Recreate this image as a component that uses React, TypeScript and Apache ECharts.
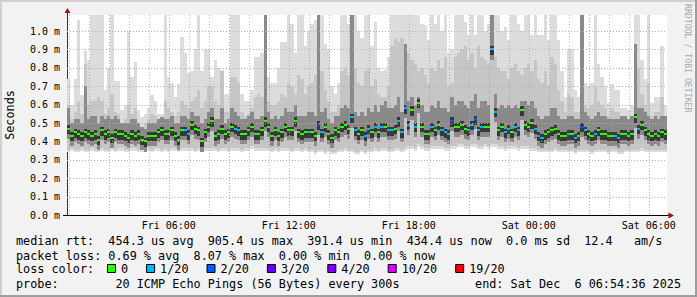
import React, { useEffect, useRef } from 'react';
import * as echarts from 'echarts';

// Time axis: hours since Fri 00:00 (Dec 5 2025). One sample every 10 minutes, 30 h window.
const START_HOUR = 54.6 / 60; // Fri 00:54:36
const STEP_HOURS = 1 / 6;
const SPAN_HOURS = 30;
const Y_MAX = 1.087; // ms

// All ping values below are in units of 0.01 ms (10 µs)
const median = [
  47, 43, 45, 44, 43, 45, 44, 43, 44, 41,
  46, 44, 45, 42, 45, 44, 44, 43, 42, 44,
  43, 44, 41, 40, 43, 43, 43, 45, 46, 44,
  44, 46, 43, 41, 46, 46, 44, 49, 47, 46,
  40, 45, 48, 51, 43, 44, 47, 44, 45, 48,
  47, 46, 44, 44, 46, 48, 44, 44, 46, 51,
  48, 43, 46, 43, 45, 48, 46, 46, 51, 45,
  44, 45, 45, 45, 43, 49, 45, 48, 44, 42,
  46, 45, 48, 49, 47, 53, 46, 44, 46, 43,
  47, 45, 48, 45, 48, 48, 46, 46, 47, 51,
  45, 58, 49, 57, 48, 61, 48, 44, 44, 48,
  46, 49, 46, 45, 44, 51, 48, 48, 49, 47,
  46, 49, 52, 46, 48, 48, 48, 90, 56, 46,
  48, 45, 47, 45, 48, 46, 57, 49, 48, 50,
  47, 43, 42, 44, 45, 46, 47, 44, 43, 43,
  44, 44, 42, 43, 48, 46, 44, 43, 44, 46,
  44, 44, 43, 43, 43, 42, 44, 44, 43, 44,
  53, 47, 49, 46, 44, 43, 44, 43, 45, 44,
];

// lost pings out of 20 for each sample
const lossCount = [
  0, 0, 0, 0, 0, 0, 0, 0, 0, 0,
  0, 0, 0, 0, 0, 0, 0, 0, 0, 0,
  0, 0, 0, 0, 0, 0, 0, 0, 0, 0,
  0, 0, 0, 0, 0, 1, 1, 0, 0, 0,
  0, 0, 0, 0, 0, 0, 0, 0, 0, 0,
  1, 1, 0, 0, 0, 0, 0, 0, 0, 0,
  0, 0, 0, 0, 0, 0, 0, 0, 0, 0,
  0, 0, 1, 0, 0, 2, 1, 0, 0, 0,
  0, 0, 0, 0, 0, 1, 1, 0, 0, 1,
  1, 0, 1, 0, 1, 0, 1, 1, 0, 1,
  1, 1, 1, 0, 1, 0, 0, 0, 0, 1,
  0, 0, 1, 1, 1, 2, 0, 0, 0, 0,
  1, 1, 2, 1, 1, 0, 0, 1, 1, 0,
  0, 1, 1, 0, 1, 1, 0, 0, 0, 0,
  1, 1, 1, 0, 0, 0, 0, 0, 0, 0,
  1, 0, 1, 0, 2, 1, 0, 0, 1, 0,
  0, 0, 0, 0, 1, 1, 0, 0, 0, 0,
  0, 1, 0, 0, 0, 0, 0, 0, 0, 0,
];

// fastest ping of each sample
const pingMin = [
  34, 35, 34, 34, 35, 34, 34, 35, 34, 34,
  35, 34, 34, 35, 34, 35, 35, 34, 34, 35,
  35, 34, 34, 34, 35, 34, 35, 35, 34, 35,
  34, 35, 35, 34, 35, 35, 35, 35, 34, 35,
  34, 35, 35, 35, 35, 34, 35, 35, 34, 35,
  35, 35, 34, 35, 35, 36, 35, 35, 35, 35,
  35, 34, 35, 34, 35, 35, 35, 34, 35, 35,
  34, 35, 34, 34, 33, 34, 34, 33, 34, 33,
  33, 34, 34, 35, 34, 34, 33, 33, 34, 33,
  34, 34, 35, 34, 35, 35, 34, 34, 35, 35,
  34, 35, 36, 36, 35, 37, 36, 35, 35, 36,
  36, 36, 36, 35, 35, 36, 36, 37, 37, 36,
  36, 37, 37, 36, 36, 37, 36, 37, 37, 36,
  36, 35, 36, 36, 36, 35, 36, 36, 36, 35,
  35, 34, 34, 34, 34, 34, 35, 34, 34, 34,
  34, 34, 33, 34, 34, 34, 34, 33, 34, 34,
  34, 34, 33, 34, 34, 33, 33, 34, 34, 34,
  34, 34, 35, 34, 34, 34, 34, 34, 34, 34,
];

// slowest ping of each sample (values above the axis top are clipped)
const pingMax = [
  74, 60, 74, 106, 65, 89, 84, 109, 109, 109,
  109, 68, 80, 109, 73, 73, 57, 60, 100, 75,
  83, 57, 53, 55, 58, 65, 62, 55, 55, 109,
  75, 72, 64, 71, 97, 88, 77, 78, 90, 109,
  78, 90, 90, 75, 84, 80, 79, 66, 66, 109,
  109, 109, 66, 62, 62, 68, 86, 86, 88, 109,
  75, 72, 72, 80, 94, 94, 109, 104, 88, 109,
  109, 92, 100, 104, 106, 109, 109, 93, 90, 70,
  66, 72, 109, 109, 104, 109, 109, 100, 96, 109,
  109, 92, 105, 80, 78, 79, 86, 109, 109, 109,
  109, 109, 109, 109, 109, 109, 104, 103, 95, 109,
  104, 109, 100, 109, 88, 90, 109, 109, 109, 105,
  98, 109, 98, 109, 109, 100, 104, 109, 109, 109,
  100, 102, 95, 109, 109, 104, 100, 109, 109, 98,
  109, 98, 98, 109, 95, 109, 109, 95, 78, 64,
  90, 90, 68, 64, 109, 72, 70, 72, 109, 82,
  75, 70, 61, 71, 68, 68, 58, 58, 57, 60,
  109, 109, 84, 74, 109, 61, 64, 64, 92, 60,
];

// upper edge of the medium smoke (roughly the 17th of 20 pings)
const upperMid = [
  60, 52, 56, 62, 55, 82, 60, 62, 62, 64,
  62, 55, 58, 66, 56, 55, 50, 52, 60, 55,
  58, 50, 48, 50, 52, 55, 54, 50, 50, 62,
  58, 56, 54, 56, 62, 60, 58, 62, 64, 68,
  58, 62, 70, 70, 62, 60, 78, 56, 56, 75,
  75, 72, 56, 54, 55, 58, 64, 66, 64, 80,
  62, 60, 60, 62, 66, 64, 72, 70, 66, 76,
  74, 66, 70, 72, 76, 80, 78, 68, 62, 56,
  56, 60, 78, 80, 76, 84, 80, 72, 70, 78,
  80, 70, 74, 66, 64, 64, 70, 92, 96, 94,
  96, 92, 88, 84, 82, 78, 80, 76, 72, 80,
  78, 84, 80, 86, 70, 72, 86, 88, 90, 92,
  84, 88, 80, 92, 86, 84, 82, 96, 86, 80,
  78, 78, 74, 80, 82, 78, 76, 80, 82, 78,
  84, 74, 72, 78, 70, 86, 82, 68, 62, 56,
  66, 64, 56, 56, 80, 60, 58, 60, 70, 62,
  60, 58, 54, 58, 56, 56, 52, 52, 52, 54,
  84, 80, 66, 60, 72, 54, 56, 56, 64, 54,
];

// upper edge of the dark smoke (roughly the 13th of 20 pings)
const upperDark = [
  58, 50, 52, 52, 50, 70, 52, 54, 54, 50,
  54, 52, 54, 52, 54, 52, 50, 50, 50, 52,
  52, 50, 48, 47, 50, 50, 50, 52, 53, 52,
  52, 54, 50, 50, 54, 54, 52, 56, 54, 54,
  50, 52, 56, 58, 52, 52, 58, 50, 52, 58,
  56, 54, 52, 52, 54, 56, 52, 52, 54, 109,
  56, 52, 54, 52, 54, 58, 56, 56, 60, 54,
  54, 54, 56, 56, 54, 109, 56, 58, 52, 50,
  54, 54, 58, 60, 58, 109, 56, 54, 56, 54,
  58, 56, 60, 56, 60, 62, 58, 58, 60, 64,
  56, 93, 62, 64, 60, 64, 60, 56, 56, 60,
  58, 62, 58, 58, 56, 64, 60, 62, 62, 60,
  58, 62, 66, 58, 62, 62, 60, 109, 66, 58,
  60, 58, 60, 58, 60, 58, 62, 62, 60, 62,
  58, 54, 52, 54, 54, 58, 58, 54, 52, 52,
  54, 54, 52, 52, 109, 56, 54, 52, 54, 56,
  54, 54, 52, 52, 52, 52, 54, 54, 52, 54,
  93, 58, 58, 56, 54, 52, 54, 52, 54, 54,
];

const xLabelHours = [6, 12, 18, 24, 30];
const dayNames = ['Fri', 'Sat'];

const lossLegend = [
  { label: '0', count: 0, color: '#26ff00' },
  { label: '1/20', count: 1, color: '#00b8ff' },
  { label: '2/20', count: 2, color: '#0059ff' },
  { label: '3/20', count: 3, color: '#5e00ff' },
  { label: '4/20', count: 4, color: '#7e00ff' },
  { label: '10/20', count: 10, color: '#dd00ff' },
  { label: '19/20', count: 19, color: '#ff0000' },
];

const statsRtt = 'median rtt:  454.3 us avg  905.4 us max  391.4 us min  434.4 us now  0.0 ms sd  12.4   am/s';
const statsLoss = 'packet loss: 0.69 % avg  8.07 % max  0.00 % min  0.00 % now';
const lossTitle = 'loss color:';
const probeText = 'probe:        20 ICMP Echo Pings (56 Bytes) every 300s';
const endText = 'end: Sat Dec  6 06:54:36 2025';

const MONO = '"DejaVu Sans Mono", monospace';
const UNIT = 0.01;

function lossColor(n: number): string {
  let c = lossLegend[0].color;
  for (const l of lossLegend) if (n >= l.count) c = l.color;
  return c;
}

export default function App() {
  const ref = useRef<HTMLDivElement>(null);

  useEffect(() => {
    const chart = echarts.init(ref.current!, null, { renderer: 'svg' });

    const smokeData = median.map((m, i) => [
      START_HOUR + i * STEP_HOURS,
      pingMin[i] * UNIT,
      pingMax[i] * UNIT,
      upperMid[i] * UNIT,
      upperDark[i] * UNIT,
      m * UNIT,
      lossCount[i],
    ]);

    const vGrid: number[][] = [];
    for (let h = Math.ceil(START_HOUR); h <= START_HOUR + SPAN_HOURS; h++) vGrid.push([h, 0]);
    const hGrid: number[][] = [];
    for (let v = 1; v <= 10; v++) hGrid.push([START_HOUR, v / 10]);

    const MAJOR = '#e79a9a';
    const MINOR = 'rgba(110,110,110,0.45)';

    // legend boxes
    const graphics: any[] = [];
    const charW = 7.1;
    let bx = 107;
    lossLegend.forEach((l) => {
      graphics.push({
        type: 'rect',
        shape: { x: bx + 0.5, y: 264.5, width: 8, height: 8 },
        style: { fill: l.color, stroke: '#000', lineWidth: 1 },
      });
      graphics.push({
        type: 'text',
        x: bx + 14,
        y: 269,
        style: { text: l.label, font: `11.8px ${MONO}`, fill: '#000', textVerticalAlign: 'middle' },
      });
      bx += 9 + 23 + l.label.length * charW;
    });

    const option: any = {
      animation: false,
      backgroundColor: '#f2f2f2',
      grid: {
        left: 67, right: 30, top: 15, bottom: 82,
        show: true, backgroundColor: '#ffffff', borderWidth: 0,
      },
      xAxis: {
        type: 'value',
        min: START_HOUR,
        max: START_HOUR + SPAN_HOURS,
        axisLine: { show: true, onZero: false, lineStyle: { color: '#000', width: 1 } },
        axisTick: { show: false },
        splitLine: { show: false },
        axisLabel: {
          customValues: xLabelHours,
          margin: 5,
          fontFamily: 'DejaVu Sans Mono',
          fontSize: 10,
          color: '#000',
          formatter: (v: number) => {
            const h = Math.round(v);
            const day = dayNames[Math.floor(h / 24)];
            const hh = String(h % 24).padStart(2, '0');
            return `${day} ${hh}:00`;
          },
        },
      },
      yAxis: {
        type: 'value',
        min: 0,
        max: Y_MAX,
        interval: 0.1,
        axisLine: { show: true, onZero: false, lineStyle: { color: '#333', width: 1 } },
        axisTick: { show: false },
        splitLine: { show: false },
        axisLabel: {
          margin: 7,
          fontFamily: 'DejaVu Sans Mono',
          fontSize: 10,
          color: '#000',
          showMaxLabel: false,
          formatter: (v: number) => (v > Y_MAX - 0.01 ? '' : `${v.toFixed(1)} m`),
        },
      },
      series: [
        {
          type: 'custom',
          name: 'smoke',
          z: 2,
          clip: true,
          encode: { x: 0, y: 5 },
          data: smokeData,
          renderItem: (params: any, api: any) => {
            const t = api.value(0);
            const xa = Math.round(api.coord([t, 0])[0]);
            const xb = Math.round(api.coord([t + STEP_HOURS, 0])[0]);
            const w = xb - xa;
            const Y = (v: number) => Math.round(api.coord([t, Math.max(0, Math.min(v, Y_MAX))])[1]);
            const lo = api.value(1), hi = api.value(2), mid = api.value(3), dk = api.value(4);
            const med = api.value(5), loss = api.value(6);
            const band = (a: number, b: number, fill: string) => {
              const y1 = Y(b), y2 = Y(a);
              return { type: 'rect', shape: { x: xa, y: y1, width: w, height: Math.max(0, y2 - y1) }, style: { fill } };
            };
            const my = Math.round(api.coord([t, med])[1]);
            return {
              type: 'group',
              children: [
                band(lo, hi, '#dcdcdc'),
                band(lo + 0.015, mid, '#c6c6c6'),
                band(med - 0.055, dk, '#8a8a8a'),
                band(med - 0.03, med + 0.02, '#383838'),
                { type: 'rect', shape: { x: xa, y: my - 1, width: w, height: 2 }, style: { fill: lossColor(loss) } },
              ],
            };
          },
        },
        {
          type: 'custom',
          name: 'vgrid',
          z: 3,
          silent: true,
          clip: false,
          encode: { x: 0, y: 1 },
          data: vGrid,
          renderItem: (params: any, api: any) => {
            const h = api.value(0);
            const x = Math.round(api.coord([h, 0])[0]) + 0.5;
            const y1 = api.coord([h, Y_MAX])[1];
            const y2 = api.coord([h, 0])[1];
            return {
              type: 'line',
              shape: { x1: x, y1, x2: x, y2 },
              style: { stroke: h % 3 === 0 ? MAJOR : MINOR, lineWidth: 1, lineDash: [1, 2] },
            };
          },
        },
        {
          type: 'custom',
          name: 'hgrid',
          z: 3,
          silent: true,
          clip: false,
          encode: { x: 0, y: 1 },
          data: hGrid,
          renderItem: (params: any, api: any) => {
            const v = api.value(1);
            const y = Math.round(api.coord([START_HOUR, v])[1]) + 0.5;
            const x1 = api.coord([START_HOUR, v])[0];
            const x2 = api.coord([START_HOUR + SPAN_HOURS, v])[0];
            return {
              type: 'line',
              shape: { x1, y1: y, x2, y2: y },
              style: { stroke: MAJOR, lineWidth: 1, lineDash: [1, 2] },
            };
          },
        },
      ],
      graphic: [
        // 3D frame
        { type: 'rect', shape: { x: 0, y: 0, width: 697, height: 2 }, style: { fill: '#cfcfcf' } },
        { type: 'rect', shape: { x: 0, y: 0, width: 2, height: 297 }, style: { fill: '#cfcfcf' } },
        { type: 'rect', shape: { x: 0, y: 295, width: 697, height: 2 }, style: { fill: '#9e9e9e' } },
        { type: 'rect', shape: { x: 695, y: 0, width: 2, height: 297 }, style: { fill: '#9e9e9e' } },
        // axis extensions and arrows
        { type: 'line', shape: { x1: 63, y1: 215.5, x2: 67, y2: 215.5 }, style: { stroke: '#000', lineWidth: 1 } },
        { type: 'line', shape: { x1: 67.5, y1: 15, x2: 67.5, y2: 12 }, style: { stroke: '#333', lineWidth: 1 } },
        { type: 'line', shape: { x1: 667, y1: 215.5, x2: 670, y2: 215.5 }, style: { stroke: '#000', lineWidth: 1 } },
        { type: 'polygon', shape: { points: [[64.5, 13], [70.5, 13], [67.5, 8]] }, style: { fill: '#a01010' } },
        { type: 'polygon', shape: { points: [[668.5, 212.5], [668.5, 218.5], [674, 215.5]] }, style: { fill: '#a01010' } },
        // axis title
        {
          type: 'text', x: 10, y: 115, rotation: Math.PI / 2,
          style: { text: 'Seconds', font: `11.8px ${MONO}`, fill: '#000', textAlign: 'center', textVerticalAlign: 'middle' },
        },
        // credit
        {
          type: 'text', x: 688, y: 4, rotation: -Math.PI / 2,
          style: { text: 'RRDTOOL / TOBI OETIKER', font: `8.2px ${MONO}`, fill: '#a8a8a8', textAlign: 'left', textVerticalAlign: 'middle' },
        },
        // stats
        { type: 'text', x: 16, y: 241, style: { text: statsRtt, font: `11.8px ${MONO}`, fill: '#000', textVerticalAlign: 'middle' } },
        { type: 'text', x: 16, y: 255.5, style: { text: statsLoss, font: `11.8px ${MONO}`, fill: '#000', textVerticalAlign: 'middle' } },
        { type: 'text', x: 16, y: 269, style: { text: lossTitle, font: `11.8px ${MONO}`, fill: '#000', textVerticalAlign: 'middle' } },
        { type: 'text', x: 16, y: 283.5, style: { text: probeText, font: `11.8px ${MONO}`, fill: '#000', textVerticalAlign: 'middle' } },
        { type: 'text', x: 681, y: 283.5, style: { text: endText, font: `11.8px ${MONO}`, fill: '#000', textAlign: 'right', textVerticalAlign: 'middle' } },
        ...graphics,
      ],
    };

    chart.setOption(option);
    return () => chart.dispose();
  }, []);

  return (
    <div
      ref={ref}
      style={{ position: 'absolute', left: 0, top: 0, width: 697, height: 297, background: '#f2f2f2' }}
    />
  );
}
